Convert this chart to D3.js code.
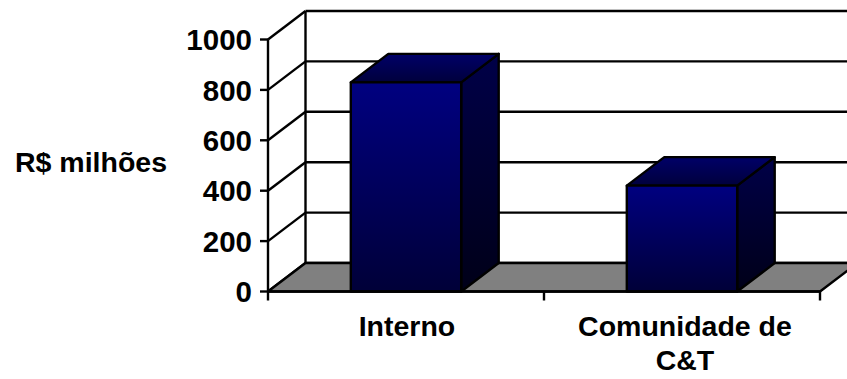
<!DOCTYPE html>
<html><head><meta charset="utf-8">
<script src="https://cdn.jsdelivr.net/npm/d3@7"></script>
<style>
html,body{margin:0;padding:0;background:#fff;overflow:hidden}
text{font-family:"Liberation Sans",Arial,sans-serif;font-weight:bold;fill:#000}
</style></head><body>
<svg id="c" width="847" height="379"></svg>
<script>
const categories = [["Interno"], ["Comunidade de", "C&T"]];
const values = [830, 420];
const yTicks = [0, 200, 400, 600, 800, 1000];
const yTitle = "R$ milhões";

const W = 847, H = 379;
const svg = d3.select("#c");
const x0 = 268, x1 = 820, yBot = 291.5, yTop = 39.5;
const DX = 37.5, DY = -28.5;

const x = d3.scaleBand().domain(categories.map((d,i)=>i)).range([x0, x1]).paddingInner(0.6).paddingOuter(0.3);
const y = d3.scaleLinear().domain([0, 1000]).range([yBot, yTop]);

const defs = svg.append("defs");
function grad(id, c1, c2){
  const g = defs.append("linearGradient").attr("id", id)
    .attr("x1",0).attr("y1",0).attr("x2",0).attr("y2",1);
  g.append("stop").attr("offset","0%").attr("stop-color",c1);
  g.append("stop").attr("offset","100%").attr("stop-color",c2);
}
grad("gFront", "#000080", "#000038");
grad("gSide", "#000048", "#000018");
grad("gTop", "#000068", "#00003c");

const LW = 2.4;
const g = svg.append("g");
// back wall gridlines
yTicks.forEach(t => {
  g.append("line").attr("x1", x0+DX).attr("x2", W+40)
    .attr("y1", y(t)+DY).attr("y2", y(t)+DY)
    .attr("stroke","#000").attr("stroke-width",LW);
});
// side wall diagonals
yTicks.forEach(t => {
  g.append("line").attr("x1", x0).attr("y1", y(t))
    .attr("x2", x0+DX).attr("y2", y(t)+DY)
    .attr("stroke","#000").attr("stroke-width",LW);
});
// back wall left edge
g.append("line").attr("x1", x0+DX).attr("x2", x0+DX)
  .attr("y1", y(1000)+DY).attr("y2", y(0)+DY)
  .attr("stroke","#000").attr("stroke-width",LW);

// floor
const floorPts = [[x0,y(0)],[x1,y(0)],[x1+DX,y(0)+DY],[x0+DX,y(0)+DY]];
g.append("polygon").attr("points", floorPts.map(p=>p.join(",")).join(" "))
  .attr("fill","#808080").attr("stroke","#000").attr("stroke-width",LW).attr("stroke-linejoin","round");

// bars
values.forEach((v,i) => {
  const bx = x(i), bw = x.bandwidth(), ty = y(v), by = y(0);
  const bg = svg.append("g").attr("stroke","#000").attr("stroke-width",LW).attr("stroke-linejoin","round");
  bg.append("polygon").attr("points", [[bx+bw,ty],[bx+bw+DX,ty+DY],[bx+bw+DX,by+DY],[bx+bw,by]].map(p=>p.join(",")).join(" "))
    .attr("fill","url(#gSide)");
  bg.append("polygon").attr("points", [[bx,ty],[bx+DX,ty+DY],[bx+bw+DX,ty+DY],[bx+bw,ty]].map(p=>p.join(",")).join(" "))
    .attr("fill","url(#gTop)");
  bg.append("rect").attr("x",bx).attr("y",ty).attr("width",bw).attr("height",by-ty)
    .attr("fill","url(#gFront)");
});

// y axis
const axY = svg.append("g");
axY.append("line").attr("x1",x0).attr("x2",x0).attr("y1",y(1000)).attr("y2",y(0))
  .attr("stroke","#000").attr("stroke-width",LW);
yTicks.forEach(t => {
  axY.append("line").attr("x1",x0-8).attr("x2",x0).attr("y1",y(t)).attr("y2",y(t))
    .attr("stroke","#000").attr("stroke-width",LW);
  axY.append("text").attr("x", x0-16).attr("y", y(t)).attr("dy","0.36em")
    .attr("text-anchor","end").attr("font-size",29.5).text(t);
});
// x axis
const axX = svg.append("g");
axX.append("line").attr("x1",x0).attr("x2",x1).attr("y1",y(0)).attr("y2",y(0))
  .attr("stroke","#000").attr("stroke-width",LW);
const step = x.step();
[x0, x0+step, x1].forEach(xx => {
  axX.append("line").attr("x1",xx).attr("x2",xx).attr("y1",y(0)).attr("y2",y(0)+9)
    .attr("stroke","#000").attr("stroke-width",LW);
});
categories.forEach((lines,i) => {
  const t = axX.append("text").attr("text-anchor","middle").attr("font-size",28.5);
  lines.forEach((ln,k) => {
    t.append("tspan").attr("x", x(i)+x.bandwidth()/2 + (i?3:1)).attr("y", 335.5 + k*34.5).text(ln);
  });
});
// y title
svg.append("text").attr("x",167).attr("y",172).attr("text-anchor","end").attr("font-size",28.5).text(yTitle);
</script>
</body></html>
